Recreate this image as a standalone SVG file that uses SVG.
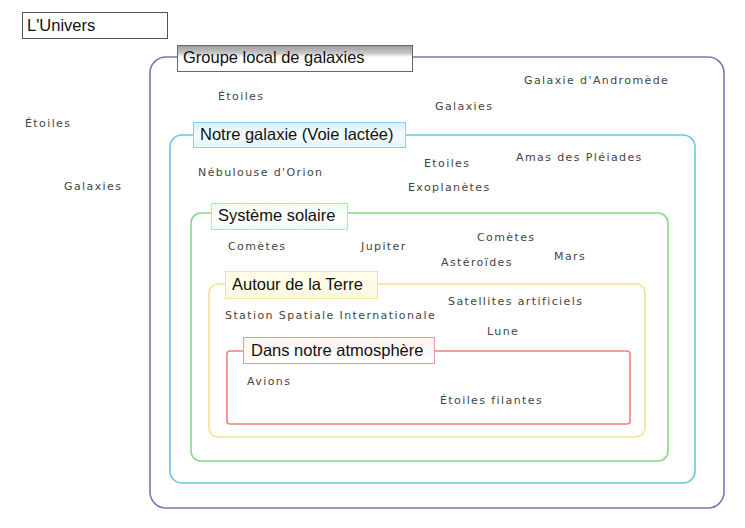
<svg xmlns="http://www.w3.org/2000/svg" width="745" height="528" viewBox="0 0 745 528">
<style>
.t{font-family:"Liberation Sans",Arial,sans-serif;font-size:16.5px;fill:#111}
.h{font-family:"DejaVu Sans","Noto Sans",sans-serif;font-size:11px;letter-spacing:1.4px;fill:#444}
.lb{stroke-width:1}
.fr{fill:none;stroke-width:1.6}
</style>
<defs>
<linearGradient id="gGray" x1="0" y1="0" x2="0" y2="1"><stop offset="0" stop-color="#999"/><stop offset="0.3" stop-color="#c8c8c8"/><stop offset="0.45" stop-color="#fff"/><stop offset="1" stop-color="#fff"/></linearGradient>
<linearGradient id="gBlue" x1="0" y1="0" x2="0" y2="1"><stop offset="0" stop-color="#d8f2fa"/><stop offset="0.5" stop-color="#f4fbfe"/><stop offset="1" stop-color="#e6f6fc"/></linearGradient>
<linearGradient id="gGreen" x1="0" y1="0" x2="0" y2="1"><stop offset="0" stop-color="#f2fbf0"/><stop offset="0.7" stop-color="#fff"/><stop offset="1" stop-color="#e8f7fb"/></linearGradient>
<linearGradient id="gYellow" x1="0" y1="0" x2="0" y2="1"><stop offset="0" stop-color="#fffce8"/><stop offset="1" stop-color="#fdf8e0"/></linearGradient>
<linearGradient id="gRed" x1="0" y1="0" x2="0" y2="1"><stop offset="0" stop-color="#fff2f2"/><stop offset="1" stop-color="#fff"/></linearGradient>
</defs>
<g id="univers">
<rect x="22.5" y="12.5" width="145" height="26" fill="#fff" stroke="#555" class="lb"/>
<text class="t" x="27" y="31">L'Univers</text>
<text class="h" x="25" y="127">Étoiles</text>
<text class="h" x="64" y="190">Galaxies</text>
</g>
<g id="groupe-local">
<rect x="150" y="57" width="574" height="451" rx="16" class="fr" stroke="#7e74b4"/>
<rect x="177.5" y="45.5" width="235" height="26" fill="url(#gGray)" stroke="#666" class="lb"/>
<text class="t" x="183" y="63">Groupe local de galaxies</text>
<text class="h" x="218" y="100">Étoiles</text>
<text class="h" x="524" y="84">Galaxie d'Andromède</text>
<text class="h" x="435" y="110">Galaxies</text>
</g>
<g id="voie-lactee">
<rect x="170" y="135" width="525" height="348" rx="12" class="fr" stroke="#6cc4e4"/>
<rect x="193.5" y="122.5" width="212" height="25" fill="url(#gBlue)" stroke="#8ccfe6" class="lb"/>
<text class="t" x="200" y="140">Notre galaxie (Voie lactée)</text>
<text class="h" x="198" y="176">Nébulouse d'Orion</text>
<text class="h" x="424" y="167">Etoiles</text>
<text class="h" x="516" y="161">Amas des Pléiades</text>
<text class="h" x="408" y="191">Exoplanètes</text>
</g>
<g id="systeme-solaire">
<rect x="191" y="213" width="477" height="248" rx="10" class="fr" stroke="#86dc86"/>
<rect x="211.5" y="203.5" width="136" height="26" fill="url(#gGreen)" stroke="#9ad89a" class="lb" stroke-dasharray="2,1"/>
<text class="t" x="218" y="221">Système solaire</text>
<text class="h" x="228" y="250">Comètes</text>
<text class="h" x="361" y="250">Jupiter</text>
<text class="h" x="477" y="241">Comètes</text>
<text class="h" x="441" y="266">Astéroïdes</text>
<text class="h" x="554" y="260">Mars</text>
</g>
<g id="autour-terre">
<rect x="209" y="284" width="436" height="153" rx="9" class="fr" stroke="#f0e490"/>
<rect x="225.5" y="271.5" width="152" height="27" fill="url(#gYellow)" stroke="#efe49c" class="lb"/>
<text class="t" x="232" y="290">Autour de la Terre</text>
<text class="h" x="225" y="319">Station Spatiale Internationale</text>
<text class="h" x="448" y="305">Satellites artificiels</text>
<text class="h" x="487" y="335">Lune</text>
</g>
<g id="atmosphere">
<rect x="227" y="351" width="403" height="73" rx="3" class="fr" stroke="#ec8474"/>
<rect x="243.5" y="337.5" width="191" height="26" fill="url(#gRed)" stroke="#e89a9a" class="lb"/>
<text class="t" x="251" y="356">Dans notre atmosphère</text>
<text class="h" x="247" y="385">Avions</text>
<text class="h" x="440" y="404">Étoiles filantes</text>
</g>
<g id="connectors"></g>
</svg>
